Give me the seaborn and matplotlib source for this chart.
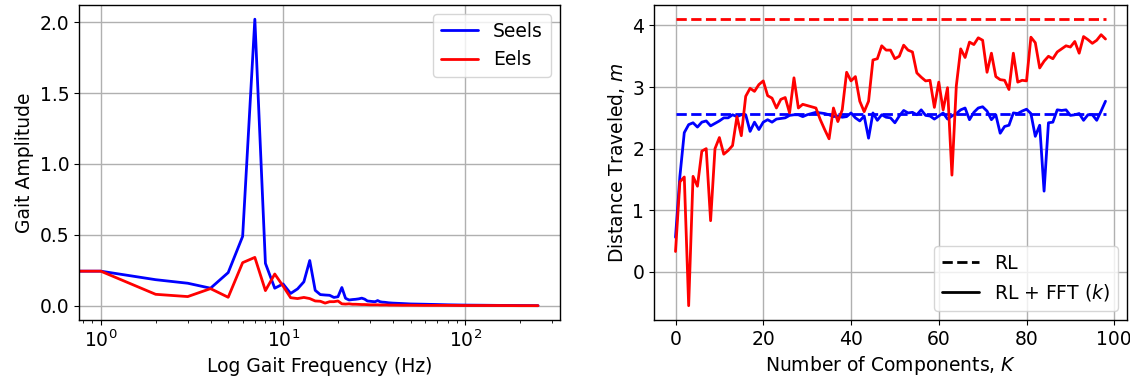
import numpy as np
import pandas as pd
import matplotlib
matplotlib.use('Agg')
import matplotlib.pyplot as plt
from matplotlib.lines import Line2D
import seaborn as sns

# ── Data: gait spectrum (left) ───────────────────────────────────────────────
freq = [0, 1, 2, 3, 4, 5, 6, 7, 8, 9, 10, 11, 12, 13, 14, 15, 16, 17, 18, 19,
        20, 21, 22, 23, 24, 25, 26, 27, 28, 29, 30, 31, 32, 33, 34, 35, 36, 37,
        38, 39, 40, 45, 50, 60, 70, 80, 100, 125, 150, 200, 250]
amp_seels = [0.245, 0.245, 0.185, 0.16, 0.125, 0.235, 0.49, 2.02, 0.30, 0.125,
             0.155, 0.088, 0.12, 0.17, 0.32, 0.11, 0.08, 0.077, 0.075, 0.06,
             0.065, 0.13, 0.054, 0.042, 0.045, 0.047, 0.05, 0.055, 0.048, 0.035,
             0.033, 0.031, 0.03, 0.038, 0.03, 0.027, 0.026, 0.024, 0.022, 0.021,
             0.02, 0.017, 0.014, 0.012, 0.01, 0.008, 0.006, 0.005, 0.004, 0.003,
             0.002]
amp_eels = [0.245, 0.245, 0.082, 0.066, 0.122, 0.061, 0.305, 0.342, 0.108, 0.225,
            0.14, 0.058, 0.052, 0.06, 0.052, 0.035, 0.033, 0.02, 0.03, 0.03,
            0.035, 0.015, 0.013, 0.015, 0.012, 0.012, 0.011, 0.01, 0.01, 0.009,
            0.008, 0.008, 0.008, 0.008, 0.007, 0.007, 0.007, 0.007, 0.006, 0.006,
            0.006, 0.005, 0.005, 0.004, 0.004, 0.004, 0.003, 0.003, 0.003, 0.002,
            0.002]

# ── Data: distance vs number of components (right) ───────────────────────────
n_comp = list(range(99))
dist_seels = [0.56, 1.55, 2.26, 2.39, 2.42, 2.35, 2.43, 2.45, 2.37, 2.41,
              2.45, 2.50, 2.50, 2.55, 2.52, 2.55, 2.55, 2.28, 2.43, 2.31,
              2.43, 2.47, 2.43, 2.48, 2.49, 2.50, 2.54, 2.55, 2.55, 2.52,
              2.55, 2.57, 2.59, 2.58, 2.57, 2.55, 2.52, 2.53, 2.51, 2.52,
              2.58, 2.50, 2.45, 2.53, 2.17, 2.58, 2.46, 2.55, 2.51, 2.50,
              2.42, 2.53, 2.62, 2.58, 2.59, 2.55, 2.63, 2.54, 2.53, 2.48,
              2.53, 2.58, 2.48, 2.53, 2.57, 2.63, 2.66, 2.47, 2.59, 2.66,
              2.68, 2.61, 2.47, 2.55, 2.25, 2.36, 2.38, 2.58, 2.57, 2.61,
              2.64, 2.57, 2.20, 2.38, 1.31, 2.42, 2.43, 2.63, 2.62, 2.63,
              2.54, 2.55, 2.57, 2.46, 2.55, 2.55, 2.46, 2.61, 2.77]
dist_eels = [0.33, 1.46, 1.54, -0.55, 1.55, 1.39, 1.96, 2.00, 0.83, 2.00,
             2.18, 1.91, 1.97, 2.05, 2.52, 2.21, 2.85, 2.98, 2.93, 3.04,
             3.10, 2.86, 2.82, 2.66, 2.80, 2.83, 2.58, 3.15, 2.66, 2.72,
             2.70, 2.68, 2.66, 2.47, 2.31, 2.16, 2.66, 2.44, 2.63, 3.24,
             3.10, 3.17, 2.77, 2.60, 2.77, 3.44, 3.46, 3.67, 3.60, 3.60,
             3.46, 3.50, 3.68, 3.60, 3.57, 3.23, 3.16, 3.10, 3.11, 2.67,
             3.08, 2.63, 2.99, 1.57, 3.02, 3.62, 3.48, 3.73, 3.69, 3.80,
             3.76, 3.24, 3.55, 3.17, 3.12, 3.11, 2.96, 3.55, 3.08, 3.11,
             3.10, 3.81, 3.72, 3.31, 3.42, 3.50, 3.46, 3.57, 3.62, 3.67,
             3.65, 3.74, 3.55, 3.82, 3.77, 3.71, 3.76, 3.85, 3.78]
rl_seels = 2.565
rl_eels = 4.10

# ── Style ────────────────────────────────────────────────────────────────────
sns.set_style('ticks', {'axes.grid': True, 'grid.color': '#b0b0b0'})
plt.rcParams['font.family'] = ['DejaVu Sans']
plt.rcParams['font.size'] = 13.5
plt.rcParams['axes.edgecolor'] = 'black'
plt.rcParams['axes.linewidth'] = 1.0
for key in ('text.color', 'axes.labelcolor', 'xtick.color', 'ytick.color'):
    plt.rcParams[key] = 'black'

fig = plt.figure(figsize=(11.3, 3.81), dpi=100)
ax1 = fig.add_axes([79 / 1130, 61 / 381, 481 / 1130, 315 / 381])
ax2 = fig.add_axes([654 / 1130, 61 / 381, 473 / 1130, 315 / 381])

# ── Left: spectrum ───────────────────────────────────────────────────────────
sns.lineplot(x=freq, y=amp_seels, ax=ax1, color='blue', lw=2, label='Seels',
             estimator=None, sort=False)
sns.lineplot(x=freq, y=amp_eels, ax=ax1, color='red', lw=2, label='Eels',
             estimator=None, sort=False)
ax1.set_xscale('log')
ax1.set_xlim(0.76, 330)
ax1.set_ylim(-0.099, 2.12)
ax1.set_yticks([0.0, 0.5, 1.0, 1.5, 2.0])
ax1.set_xlabel('Log Gait Frequency (Hz)')
ax1.set_ylabel('Gait Amplitude')
ax1.legend(loc='upper right', fontsize=13.5)
ax1.grid(True, which='major', color='#b0b0b0', lw=1)

# ── Right: distance ──────────────────────────────────────────────────────────
sns.lineplot(x=n_comp, y=[rl_seels] * len(n_comp), ax=ax2, color='blue',
             lw=2, ls='--')
sns.lineplot(x=n_comp, y=[rl_eels] * len(n_comp), ax=ax2, color='red',
             lw=2, ls='--')
sns.lineplot(x=n_comp, y=dist_seels, ax=ax2, color='blue', lw=2,
             estimator=None, sort=False)
sns.lineplot(x=n_comp, y=dist_eels, ax=ax2, color='red', lw=2,
             estimator=None, sort=False)
ax2.set_xticks([0, 20, 40, 60, 80, 100])
ax2.set_yticks([0, 1, 2, 3, 4])
ax2.set_xlabel('Number of Components, $K$')
ax2.set_ylabel('Distance Traveled, $m$')
handles = [Line2D([], [], color='black', lw=2, ls='--'),
           Line2D([], [], color='black', lw=2, ls='-')]
ax2.legend(handles, ['RL', 'RL + FFT ($k$)'], loc='lower right', fontsize=13.5)
ax2.grid(True, color='#b0b0b0', lw=1)

for ax in (ax1, ax2):
    for s in ax.spines.values():
        s.set_visible(True)
        s.set_color('black')

fig.savefig('out.png', dpi=100)
